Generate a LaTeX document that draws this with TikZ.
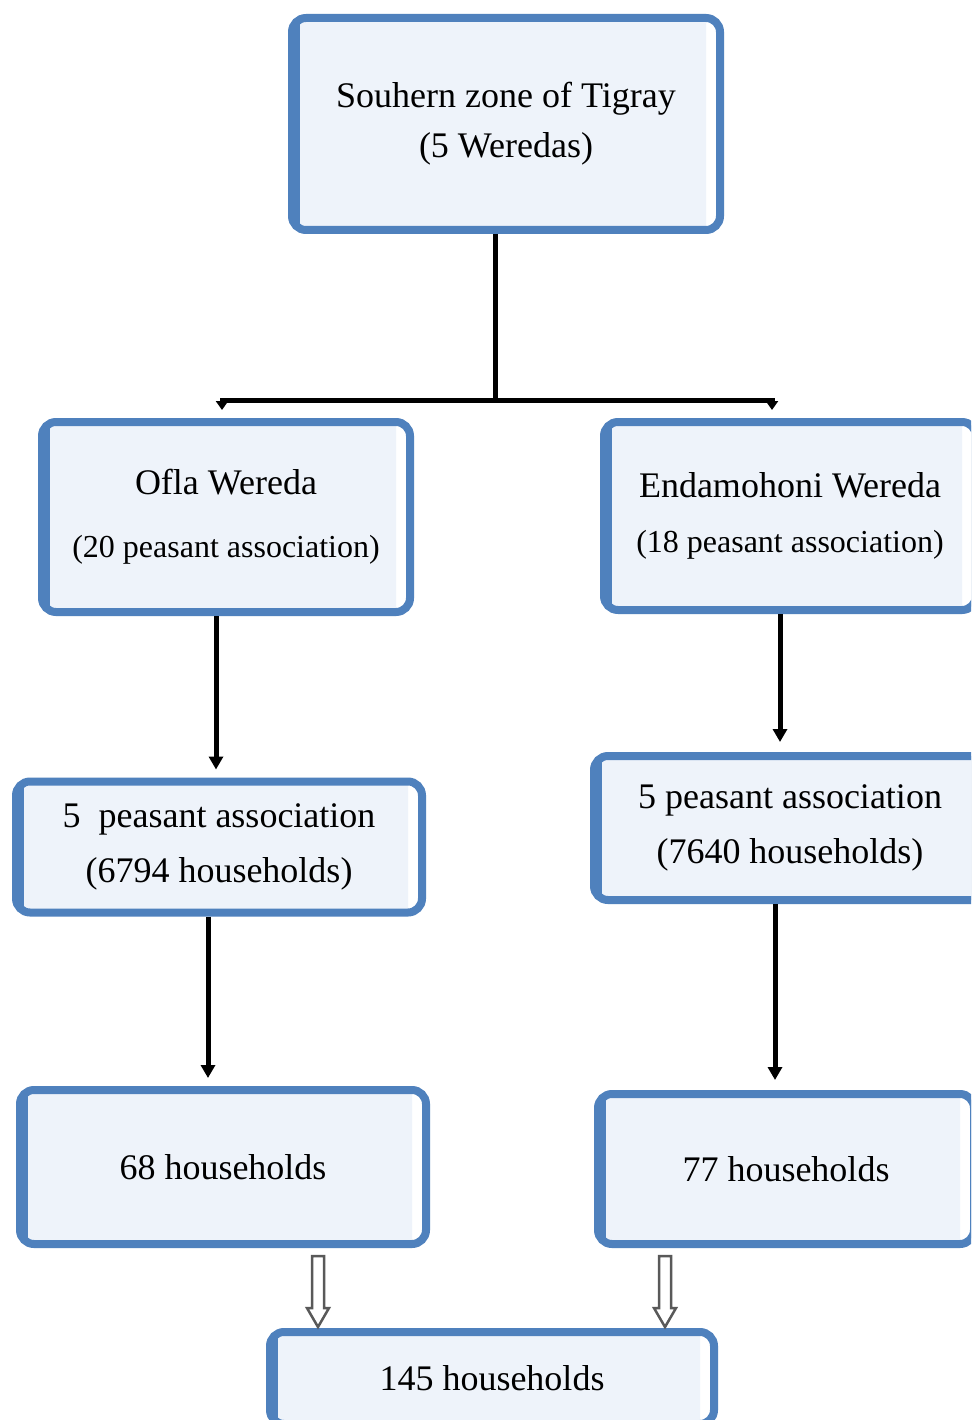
\documentclass[tikz,border=0pt]{standalone}
\usepackage{fontspec}
\setmainfont{Liberation Serif}
\usetikzlibrary{arrows.meta,calc}
\definecolor{boxblue}{HTML}{4F81BD}
\definecolor{boxfill}{HTML}{EEF3FA}
\tikzset{
  bx/.style={draw=boxblue, line width=8pt, rounded corners=14pt, fill=white,
    align=center, inner sep=0pt, font=\fontsize{36}{55}\selectfont,
    path picture={
      \fill[boxblue] (path picture bounding box.north west) rectangle (path picture bounding box.south east);
      \fill[white] ($(path picture bounding box.north west)+(8,-10)$) rectangle (path picture bounding box.south east);
      \fill[boxfill] ($(path picture bounding box.north west)+(8,-10)$) rectangle ($(path picture bounding box.south east)+(-14,18)$);
    }},
  conn/.style={line width=5pt, -{Triangle[length=13pt,width=14pt]}},
  hollow/.style={draw=black!65, line width=2.5pt, fill=white, line join=miter}
}
\begin{document}
\begin{tikzpicture}[x=1pt,y=-1pt]
\clip (0,0) rectangle (971,1420);
\fill[white] (0,0) rectangle (971,1420);

\node[bx, minimum width=428, minimum height=212] (top) at (506,124) {\raisebox{-5pt}{\shortstack{Souhern zone of Tigray\\[14pt](5 Weredas)}}};
\node[bx, minimum width=368, minimum height=190] (ofla) at (226,517) {Ofla Wereda\\[8pt]{\fontsize{32}{40}\selectfont(20 peasant association)}};
\node[bx, minimum width=372, minimum height=188] (enda) at (790,516) {Endamohoni Wereda\\{\fontsize{32}{40}\selectfont(18 peasant association)}};
\node[bx, minimum width=406, minimum height=131] (pa1) at (219,847) {5\enspace peasant association\\(6794 households)};
\node[bx, minimum width=392, minimum height=144] (pa2) at (790,828) {5 peasant association\\(7640 households)};
\node[bx, minimum width=406, minimum height=154] (hh1) at (223,1167) {68 households};
\node[bx, minimum width=376, minimum height=150] (hh2) at (786,1169) {77 households};
\node[bx, minimum width=444, minimum height=92] (hh3) at (492,1378) {145 households};

% top split connector
\coordinate (jn) at ($(top.south)+(-11,166)$);
\coordinate (lt) at (222,410);
\coordinate (rt) at (772,410);
\draw[line width=5pt] ($(top.south)+(-11,0)$) -- (jn);
\draw[conn, -{Triangle[length=9pt,width=12pt]}] (jn) -| (lt);
\draw[conn, -{Triangle[length=9pt,width=12pt]}] (jn) -| (rt);

% vertical connectors
\draw[conn] ($(ofla.south)+(-10,0)$) -- ($(pa1.north)+(-3,-8)$);
\draw[conn] ($(enda.south)+(-10,0)$) -- ($(pa2.north)+(-10,-10)$);
\draw[conn] ($(pa1.south)+(-11,0)$) -- ($(hh1.north)+(-15,-8)$);
\draw[conn] ($(pa2.south)+(-15,0)$) -- ($(hh2.north)+(-11,-10)$);

% hollow arrows
\draw[hollow] ($(hh1.south)+(95,8)$) -- ++(6,0) -- ++(0,52) -- ++(5,0) -- ++(-11,19) -- ++(-11,-19) -- ++(5,0) -- ++(0,-52) -- cycle;
\draw[hollow] ($(hh2.south)+(-121,8)$) -- ++(6,0) -- ++(0,52) -- ++(5,0) -- ++(-11,19) -- ++(-11,-19) -- ++(5,0) -- ++(0,-52) -- cycle;
\end{tikzpicture}
\end{document}
